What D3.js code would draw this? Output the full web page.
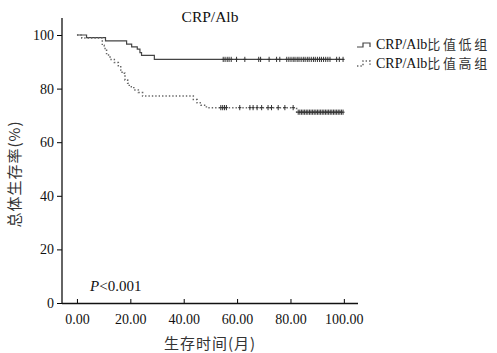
<!DOCTYPE html>
<html>
<head>
<meta charset="utf-8">
<script src="https://cdn.jsdelivr.net/npm/d3@7"></script>
<style>
  body { margin: 0; background: #fff; }
  text { font-family: "Liberation Serif", "Times New Roman", serif; fill: #111; }
  .cjk { font-family: "Noto Sans CJK SC", sans-serif; }
</style>
</head>
<body>
<div id="chart"></div>
<script>
// 低组（实线）生存曲线阶梯点 [月, %]
var lowTimes = [0, 3.6, 10.7, 18.6, 20.5, 22.6, 23.6, 24.2, 29.0, 100];
var lowSurv  = [100, 99.0, 97.8, 96.6, 95.6, 94.7, 93.4, 92.4, 90.9, 90.9];
var lowCensor = [54.8, 55.5, 56.3, 57.0, 57.8, 59.8, 62.9, 68.1, 68.8, 72.0, 74.8, 76.0,
  78.6, 79.4, 80.2, 81.0, 81.7, 82.5, 83.2, 84.0, 84.8, 85.5, 86.3, 87.0, 87.8, 88.6,
  89.3, 90.1, 90.9, 91.6, 92.4, 93.2, 94.0, 94.8, 97.3, 98.3, 99.7];

// 高组（虚线）
var highTimes = [0, 1.8, 9.5, 10.2, 11.1, 12.4, 14.0, 15.5, 16.4, 16.9, 18.0, 19.0, 19.6,
  21.3, 23.0, 24.6, 43.6, 45.0, 46.5, 48.5, 82.3, 99.7];
var highSurv  = [100, 98.9, 96.2, 95.0, 92.5, 90.9, 89.7, 88.5, 86.9, 85.7, 83.2, 82.0, 80.7,
  79.5, 78.5, 77.2, 75.9, 74.7, 73.8, 72.9, 71.2, 71.2];
var highCensor = [53.9, 54.6, 55.3, 56.0, 61.0, 64.8, 66.0, 67.5, 69.2, 71.6, 72.9, 75.4, 77.9, 81.0,
  82.9, 83.5, 84.1, 84.7, 85.3, 85.9, 86.5, 87.1, 87.7, 88.3, 88.9, 89.5, 90.1, 90.7, 91.3,
  91.9, 92.5, 93.1, 93.7, 94.3, 94.9, 95.5, 96.1, 96.7, 97.3, 97.9, 98.5, 99.1, 99.7];

var xTicks = [0, 20, 40, 60, 80, 100];
var yTicks = [0, 20, 40, 60, 80, 100];
var legendNames = ['CRP/Alb', 'CRP/Alb'];
var legendCjk = ['比值低组', '比值高组'];

var W = 497, H = 353;
var svg = d3.select('#chart').append('svg').attr('width', W).attr('height', H);

var x = d3.scaleLinear().domain([-5.6, 105.3]).range([62, 358]);
var y = d3.scaleLinear().domain([0, 100]).range([303, 35]);

// 坐标轴
var xAxis = svg.append('g').attr('transform', 'translate(0,303)')
  .call(d3.axisBottom(x).tickValues(xTicks).tickSize(-4).tickPadding(11).tickFormat(d3.format('.2f')));
xAxis.select('.domain').remove();
xAxis.selectAll('text').style('font-size', '14px');
svg.append('line').attr('x1', 62).attr('x2', 358).attr('y1', 303.5).attr('y2', 303.5)
  .attr('stroke', '#111').attr('stroke-width', 1.3);

var yAxis = svg.append('g').attr('transform', 'translate(62,0)')
  .call(d3.axisLeft(y).tickValues(yTicks).tickSize(5).tickPadding(3));
yAxis.select('.domain').remove();
yAxis.selectAll('text').style('font-size', '14px');
svg.append('line').attr('x1', 62).attr('x2', 62).attr('y1', 18).attr('y2', 304)
  .attr('stroke', '#111').attr('stroke-width', 1.3);

// 曲线
var line = d3.line().x(d => x(d[0])).y(d => y(d[1])).curve(d3.curveStepAfter);
var lowData = lowTimes.map((t, i) => [t, lowSurv[i]]);
var highData = highTimes.map((t, i) => [t, highSurv[i]]);

svg.append('path').attr('d', line(lowData)).attr('fill', 'none')
  .attr('stroke', '#444').attr('stroke-width', 1.2);
svg.append('path').attr('d', line(highData)).attr('fill', 'none')
  .attr('stroke', '#666').attr('stroke-width', 1.5).attr('stroke-dasharray', '1.4,2');

// 删失标记
function survAt(times, surv, t) {
  var v = surv[0];
  for (var k = 0; k < times.length; k++) { if (times[k] <= t) v = surv[k]; }
  return v;
}
function drawCensor(list, times, surv, color) {
  svg.append('g').selectAll('path').data(list).enter().append('path')
    .attr('d', function (t) {
      var cx = x(t), cy = y(survAt(times, surv, t));
      return 'M' + cx + ',' + (cy - 2.6) + 'V' + (cy + 2.6) + 'M' + (cx - 1.6) + ',' + cy + 'H' + (cx + 1.6);
    })
    .attr('stroke', color).attr('stroke-width', 1).attr('fill', 'none');
}
drawCensor(lowCensor, lowTimes, lowSurv, '#333');
drawCensor(highCensor, highTimes, highSurv, '#333');

// 标题
svg.append('text').attr('x', 210).attr('y', 22).attr('text-anchor', 'middle')
  .style('font-size', '15.5px').text('CRP/Alb');

// 轴标题
svg.append('text').attr('class', 'cjk').attr('x', 210).attr('y', 349).attr('text-anchor', 'middle')
  .style('font-size', '15px').style('letter-spacing', '1px').style('fill', '#333').text('生存时间(月)');
svg.append('text').attr('class', 'cjk').attr('transform', 'translate(20,174) rotate(-90)')
  .attr('text-anchor', 'middle').style('font-size', '15px').style('letter-spacing', '1px')
  .style('fill', '#333').text('总体生存率(%)');

// P值
var pt = svg.append('text').attr('x', 90).attr('y', 291).style('font-size', '15px');
pt.append('tspan').style('font-style', 'italic').text('P');
pt.append('tspan').text('<0.001');

// 图例
var leg = svg.append('g');
leg.append('path').attr('d', 'M357,47H363V43H370V47').attr('fill', 'none')
  .attr('stroke', '#444').attr('stroke-width', 1.2);
leg.append('path').attr('d', 'M357,66H363V61H370V66').attr('fill', 'none')
  .attr('stroke', '#666').attr('stroke-width', 1.5).attr('stroke-dasharray', '1.4,2');
legendNames.forEach(function (n, i) {
  var t = leg.append('text').attr('x', 376).attr('y', 49 + i * 19).style('font-size', '14px');
  t.append('tspan').text(n);
  t.append('tspan').attr('class', 'cjk').style('font-size', '13px').style('letter-spacing', '2.6px')
    .style('fill', '#333').text(legendCjk[i]);
});
</script>
</body>
</html>
